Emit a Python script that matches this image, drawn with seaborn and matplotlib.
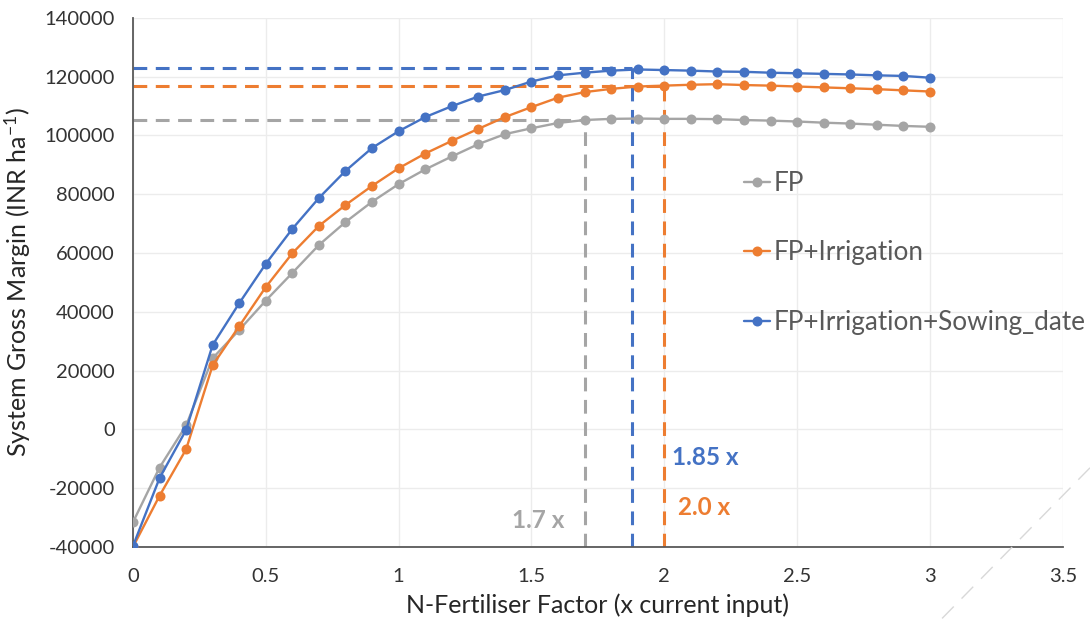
import numpy as np
import pandas as pd
import matplotlib
matplotlib.use("Agg")
import matplotlib.pyplot as plt
import seaborn as sns
from matplotlib.lines import Line2D

# ---- data ----
factor = [0.0, 0.1, 0.2, 0.3, 0.4, 0.5, 0.6, 0.7, 0.8, 0.9, 1.0,
          1.1, 1.2, 1.3, 1.4, 1.5, 1.6, 1.7, 1.8, 1.9, 2.0,
          2.1, 2.2, 2.3, 2.4, 2.5, 2.6, 2.7, 2.8, 2.9, 3.0]
fp = [-31600, -13000, 1300, 24200, 33800, 43800, 53200, 62700, 70500, 77400, 83400,
      88400, 92800, 97000, 100400, 102400, 104200, 105200, 105600, 105700, 105600,
      105600, 105500, 105200, 105000, 104700, 104300, 104000, 103600, 103200, 102900]
fp_irr = [-40000, -22600, -6800, 21800, 35100, 48400, 59900, 69200, 76300, 82800, 88800,
          93800, 98100, 102200, 106200, 109600, 112800, 114700, 115800, 116600, 116900,
          117200, 117400, 117100, 116900, 116600, 116300, 116000, 115700, 115300, 114900]
fp_irr_sow = [-39700, -16600, -200, 28700, 42900, 56300, 68200, 78700, 87900, 95700, 101400,
              106200, 109900, 113200, 115400, 118300, 120400, 121300, 122000, 122400, 122200,
              122000, 121700, 121600, 121300, 121100, 120900, 120700, 120400, 120200, 119600]
scenarios = ["FP", "FP+Irrigation", "FP+Irrigation+Sowing_date"]
colors = ["#A5A5A5", "#ED7D31", "#4472C4"]
opt_x = [1.7, 2.0, 1.88]
opt_y = [105300, 116800, 122800]
opt_labels = ["1.7 x", "2.0 x", "1.85 x"]
x_ticks = [0, 0.5, 1, 1.5, 2, 2.5, 3, 3.5]
x_tick_labels = ["0", "0.5", "1", "1.5", "2", "2.5", "3", "3.5"]
y_ticks = [-40000, -20000, 0, 20000, 40000, 60000, 80000, 100000, 120000, 140000]

df = pd.DataFrame({
    "factor": factor * 3,
    "sgm": fp + fp_irr + fp_irr_sow,
    "scenario": [scenarios[0]] * len(factor) + [scenarios[1]] * len(factor) + [scenarios[2]] * len(factor),
})

sns.set_theme(style="white")
plt.rcParams["font.family"] = ["Lato", "DejaVu Sans"]
plt.rcParams["mathtext.default"] = "regular"

fig = plt.figure(figsize=(10.9, 6.33), dpi=100)
ax = fig.add_axes([0.122, 0.136, 0.853, 0.836])

ymin, ymax = -40000, 140000
# dashed optimum guide lines
for xv, yv, c in zip(opt_x, opt_y, colors):
    ax.plot([0, xv], [yv, yv], color=c, lw=2.2, ls=(0, (4.5, 2.8)), zorder=2)
    ax.plot([xv, xv], [ymin, yv], color=c, lw=2.2, ls=(0, (4.5, 2.8)), zorder=2)

sns.lineplot(data=df, x="factor", y="sgm", hue="scenario", hue_order=scenarios,
             palette=colors, marker="o", markersize=7.2, markeredgewidth=0,
             linewidth=1.7, ax=ax, legend=False, zorder=3)

ax.set_xlim(0, 3.5)
ax.set_ylim(ymin, ymax)
ax.set_xticks(x_ticks)
ax.set_xticklabels(x_tick_labels)
ax.set_yticks(y_ticks)
ax.set_yticklabels([str(v) for v in y_ticks])
ax.grid(True, color="#ececec", lw=1)
ax.set_axisbelow(True)
for s in ["top", "right"]:
    ax.spines[s].set_visible(False)
for s in ["left", "bottom"]:
    ax.spines[s].set_color("#595959")
    ax.spines[s].set_linewidth(1.3)
ax.tick_params(axis="both", length=0, labelsize=14.5, labelcolor="#333333")
ax.tick_params(axis="y", pad=13)
ax.tick_params(axis="x", pad=15)
ax.set_xlabel("N-Fertiliser Factor (x current input)", fontsize=18, color="#262626", labelpad=6)
ax.set_ylabel("System Gross Margin (INR ha$^{-1}$)", fontsize=18, color="#262626", labelpad=8)

# annotations
ax.text(1.625, -31000, opt_labels[0], color=colors[0], fontsize=17.5, fontweight="bold", ha="right", va="center")
ax.text(2.05, -26700, opt_labels[1], color=colors[1], fontsize=17.5, fontweight="bold", ha="left", va="center")
ax.text(2.03, -9700, opt_labels[2], color=colors[2], fontsize=17.5, fontweight="bold", ha="left", va="center")

handles = [Line2D([0], [0], color=c, lw=1.7, marker="o", markersize=7.2, markeredgewidth=0) for c in colors]
leg = ax.legend(handles, scenarios, loc="upper left", bbox_to_anchor=(0.632, 0.755), frameon=False,
                fontsize=18.8, labelspacing=1.7, handlelength=1.0, handletextpad=0.15, labelcolor="#595959")

# faint diagonal artifact
fig.add_artist(Line2D([1.0, 0.858], [0.261, 0.012], transform=fig.transFigure,
                      color="#d8d8d8", lw=1.0, ls=(0, (12, 8))))

fig.savefig("out.png", dpi=100)
